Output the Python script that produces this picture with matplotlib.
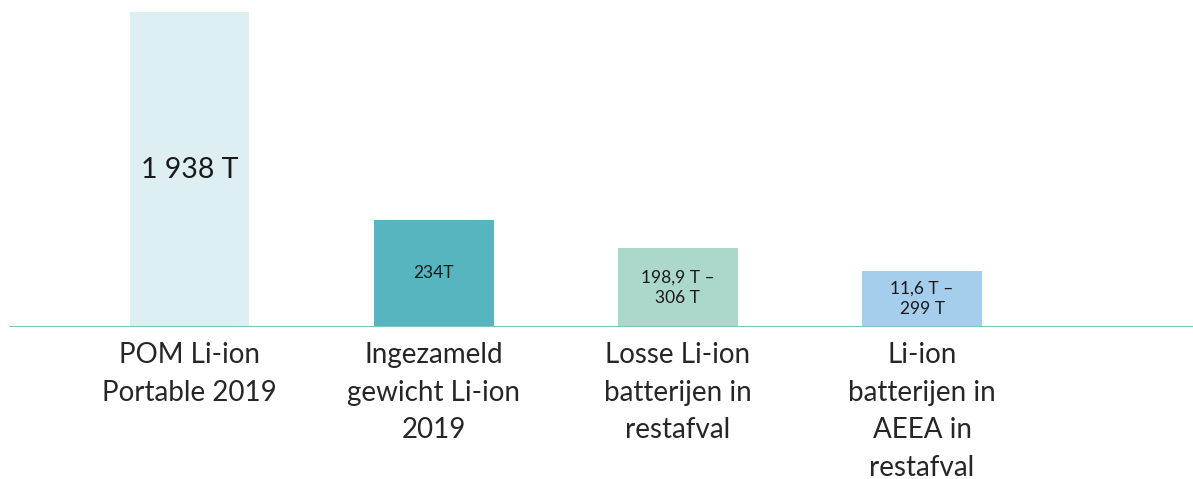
import matplotlib.pyplot as plt

# bar heights as drawn (chart is not to scale), labels carry the real values
categories = ['POM Li-ion\nPortable 2019', 'Ingezameld\ngewicht Li-ion\n2019',
              'Losse Li-ion\nbatterijen in\nrestafval', 'Li-ion\nbatterijen in\nAEEA in\nrestafval']
heights = [315, 107, 79, 56]
value_labels = ['1 938 T', '234T', '198,9 T –\n306 T', '11,6 T –\n299 T']
colors = ['#ddeff2', '#57b5bf', '#acd8cb', '#a5cdec']
label_sizes = [20.5, 12.5, 12.5, 12.5]

plt.rcParams['font.family'] = ['Lato', 'DejaVu Sans']

fig = plt.figure(figsize=(11.93, 4.79), dpi=100)
ax = fig.add_axes([9 / 1193, 1 - 327 / 479, 1 - 9 / 1193, 327 / 479])

x = range(len(categories))
ax.bar(x, heights, width=0.49, color=colors, zorder=1)
for i, (h, lab) in enumerate(zip(heights, value_labels)):
    ax.text(i, h / 2, lab, ha='center', va='center', fontsize=label_sizes[i],
            color='#1a1a1a', linespacing=1.35)

ax.axhline(0, color='#7dc8ad', lw=1.5, zorder=2)
ax.set_xlim(-0.74, 4.11)
ax.set_ylim(0, 327)
ax.set_yticks([])
ax.set_xticks(list(x))
ax.set_xticklabels(categories, fontsize=20, color='#262626', linespacing=1.55)
ax.tick_params(axis='x', length=0, pad=11)
for s in ax.spines.values():
    s.set_visible(False)

fig.savefig('out.png', dpi=100)
